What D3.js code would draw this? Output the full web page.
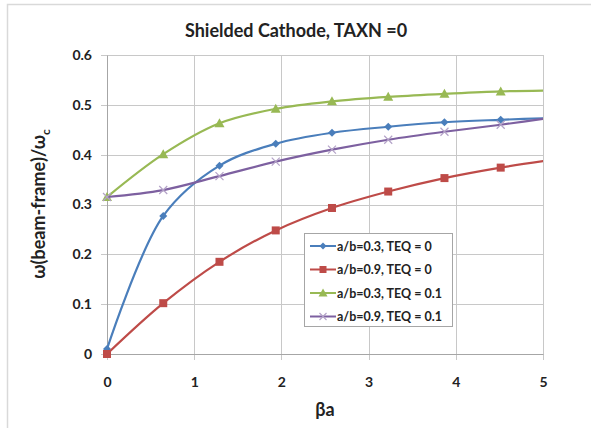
<!DOCTYPE html>
<html lang="en">
  <head>
    <meta charset="utf-8">
    <title>Shielded Cathode</title>
    <style>
      body { margin: 0; background: #fff; }
      svg { display: block; font-family: Lato, "Open Sans", sans-serif; }
    </style>
  </head>
  <body>
    <script src="https://cdn.jsdelivr.net/npm/d3@7"></script>
    <script>
      // values
      var betaA = [0, 0.645, 1.29, 1.935, 2.58, 3.225, 3.87, 4.515, 5.16];
      var blue03 = [0.01, 0.277, 0.378, 0.422, 0.444, 0.456, 0.465, 0.470, 0.474];
      var red09 = [0.0, 0.102, 0.185, 0.248, 0.293, 0.326, 0.353, 0.374, 0.391];
      var green03 = [0.315, 0.401, 0.463, 0.492, 0.507, 0.516, 0.522, 0.527, 0.529];
      var purple09 = [0.315, 0.329, 0.357, 0.386, 0.410, 0.430, 0.446, 0.460, 0.476];
      var seriesNames = ["a/b=0.3, TEQ = 0", "a/b=0.9, TEQ = 0", "a/b=0.3, TEQ = 0.1", "a/b=0.9, TEQ = 0.1"];
      var xTicks = [0, 1, 2, 3, 4, 5];
      var yTicks = [0, 0.1, 0.2, 0.3, 0.4, 0.5, 0.6];

      var width = 591, height = 428;
      var marginLeft = 107, marginRight = 48, marginTop = 55, marginBottom = 74;

      var series = [
        {name: seriesNames[0], values: blue03, color: "#4a7ebb", marker: "diamond"},
        {name: seriesNames[1], values: red09, color: "#be4b48", marker: "square"},
        {name: seriesNames[2], values: green03, color: "#98b954", marker: "triangle"},
        {name: seriesNames[3], values: purple09, color: "#7d60a0", marker: "cross"}
      ];

      var x = d3.scaleLinear([0, 5], [marginLeft, width - marginRight]);
      var y = d3.scaleLinear([0, 0.6], [height - marginBottom, marginTop]);

      var svg = d3.select("body").append("svg")
          .attr("width", width)
          .attr("height", height)
          .attr("viewBox", [0, 0, width, height]);

      // chart frame (only top and left edges show in the reference)
      svg.append("path")
          .attr("d", "M7.5," + height + "V4.5H" + width)
          .attr("fill", "none")
          .attr("stroke", "#d9d9d9")
          .attr("stroke-width", 1.5);

      svg.append("text")
          .attr("x", 296)
          .attr("y", 37)
          .attr("text-anchor", "middle")
          .attr("font-size", 18)
          .attr("font-weight", "bold")
          .attr("fill", "#222")
          .text("Shielded Cathode, TAXN =0");

      // grid
      var grid = svg.append("g").attr("stroke", "#c8c8c8").attr("stroke-width", 1);
      grid.selectAll(".gy").data(yTicks).join("line")
          .attr("x1", marginLeft - 6).attr("x2", width - marginRight)
          .attr("y1", d => Math.round(y(d)) + 0.5).attr("y2", d => Math.round(y(d)) + 0.5);
      grid.selectAll(".gx").data(xTicks).join("line")
          .attr("y1", marginTop).attr("y2", height - marginBottom + 6)
          .attr("x1", d => Math.round(x(d)) + 0.5).attr("x2", d => Math.round(x(d)) + 0.5);

      // axes
      svg.append("g")
          .attr("transform", `translate(${marginLeft},0)`)
          .call(d3.axisLeft(y).tickValues(yTicks).tickSize(0).tickPadding(15)
                .tickFormat(d => d === 0 ? "0" : d3.format(".1f")(d)))
          .call(g => g.select(".domain").attr("stroke", "#a6a6a6"))
          .call(g => g.selectAll("text").attr("font-size", 14).attr("font-weight", "bold")
                .attr("fill", "#222").attr("font-family", "Lato, sans-serif"));

      svg.append("g")
          .attr("transform", `translate(0,${height - marginBottom})`)
          .call(d3.axisBottom(x).tickValues(xTicks).tickSize(0).tickPadding(23).tickFormat(d3.format("d")))
          .call(g => g.select(".domain").attr("stroke", "#a6a6a6"))
          .call(g => g.selectAll("text").attr("font-size", 14).attr("font-weight", "bold")
                .attr("fill", "#222").attr("font-family", "Lato, sans-serif"));

      svg.append("text")
          .attr("x", 325)
          .attr("y", 416)
          .attr("text-anchor", "middle")
          .attr("font-size", 18)
          .attr("font-weight", "bold")
          .attr("fill", "#222")
          .text("βa");

      var yTitle = svg.append("text")
          .attr("transform", "translate(45,204) rotate(-90)")
          .attr("text-anchor", "middle")
          .attr("font-size", 18)
          .attr("font-weight", "bold")
          .attr("fill", "#222");
      yTitle.append("tspan").text("ω(beam-frame)/ω");
      yTitle.append("tspan").attr("font-size", 12).attr("dy", 5).text("c");

      svg.append("clipPath").attr("id", "plot")
        .append("rect")
          .attr("x", marginLeft - 8).attr("y", marginTop - 8)
          .attr("width", width - marginRight - marginLeft + 8)
          .attr("height", height - marginBottom - marginTop + 16);

      var line = d3.line()
          .x((d, i) => x(betaA[i]))
          .y(d => y(d))
          .curve(d3.curveCatmullRom.alpha(0.5));

      function drawMarker(g, type, color, size) {
        var s = size;
        if (type === "diamond") {
          g.append("path").attr("d", `M0,${-s}L${s},0L0,${s}L${-s},0Z`).attr("fill", color);
        } else if (type === "square") {
          g.append("rect").attr("x", -s).attr("y", -s).attr("width", 2 * s).attr("height", 2 * s)
              .attr("fill", color);
        } else if (type === "triangle") {
          g.append("path").attr("d", `M0,${-s - 1}L${s + 1},${s}L${-s - 1},${s}Z`).attr("fill", color);
        } else {
          g.append("path").attr("d", `M${-s},${-s}L${s},${s}M${-s},${s}L${s},${-s}`)
              .attr("stroke", "#b3a2c7").attr("stroke-width", 1.2).attr("fill", "none");
        }
      }

      var plot = svg.append("g").attr("clip-path", "url(#plot)");
      series.forEach(function (s) {
        plot.append("path")
            .datum(s.values)
            .attr("fill", "none")
            .attr("stroke", s.color)
            .attr("stroke-width", 2.2)
            .attr("d", line);
        plot.append("g").selectAll("g")
            .data(s.values.map((v, i) => [betaA[i], v]).filter(d => d[0] <= 5))
            .join("g")
            .attr("transform", d => `translate(${x(d[0])},${y(d[1])})`)
            .each(function () { drawMarker(d3.select(this), s.marker, s.color, 4); });
      });

      // legend
      var legend = svg.append("g").attr("transform", "translate(304,233)");
      legend.append("rect")
          .attr("x", 0.5).attr("y", 0.5).attr("width", 148).attr("height", 93)
          .attr("fill", "#fff").attr("stroke", "#a6a6a6");
      var item = legend.selectAll(".item").data(series).join("g")
          .attr("transform", (d, i) => `translate(6,${13 + i * 23.5})`);
      item.append("line").attr("x1", 0).attr("x2", 26)
          .attr("stroke", d => d.color).attr("stroke-width", 2);
      item.append("g").attr("transform", "translate(13,0)")
          .each(function (d) { drawMarker(d3.select(this), d.marker, d.color, 3.5); });
      item.append("text")
          .attr("x", 27).attr("y", 4.5)
          .attr("font-size", 12.5)
          .attr("font-weight", "bold")
          .attr("fill", "#222")
          .text(d => d.name);
    </script>
  </body>
</html>
